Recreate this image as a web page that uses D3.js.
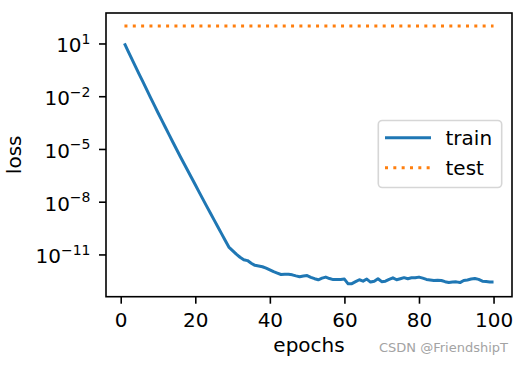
<!DOCTYPE html>
<html>
<head>
<meta charset="utf-8">
<script src="https://cdn.jsdelivr.net/npm/d3@7"></script>
<style>
  html, body { margin: 0; padding: 0; background: #fff; }
  svg { display: block; }
  text { font-family: "DejaVu Sans", sans-serif; fill: #000; }
</style>
</head>
<body>
<svg id="chart" width="523" height="365"></svg>
<script>
// ---- data ----
const epochs = d3.range(1, 101);
// log10 of the training loss, epochs 1..100
const trainLog10 = [
  1.00, 0.55, 0.11, -0.33, -0.77, -1.20, -1.64, -2.08, -2.51, -2.94,
  -3.36, -3.78, -4.20, -4.62, -5.03, -5.44, -5.84, -6.24, -6.64, -7.04,
  -7.44, -7.84, -8.24, -8.63, -9.02, -9.41, -9.80, -10.19, -10.58, -10.78,
  -10.98, -11.16, -11.30, -11.35, -11.50, -11.62, -11.66, -11.70, -11.78, -11.88,
  -11.98, -12.06, -12.14, -12.12, -12.13, -12.16, -12.22, -12.27, -12.23, -12.20,
  -12.30, -12.38, -12.44, -12.35, -12.29, -12.37, -12.43, -12.42, -12.43, -12.40,
  -12.67, -12.66, -12.55, -12.44, -12.52, -12.40, -12.57, -12.52, -12.38, -12.55,
  -12.52, -12.42, -12.33, -12.44, -12.38, -12.32, -12.38, -12.33, -12.33, -12.29,
  -12.35, -12.42, -12.45, -12.48, -12.47, -12.48, -12.55, -12.60, -12.57, -12.56,
  -12.60, -12.48, -12.45, -12.40, -12.37, -12.42, -12.52, -12.54, -12.57, -12.57
];
const trainLoss = trainLog10.map(e => Math.pow(10, e));
// test loss stays flat at about 1e2
const testLoss = [
  100,100,100,100,100,100,100,100,100,100,
  100,100,100,100,100,100,100,100,100,100,
  100,100,100,100,100,100,100,100,100,100,
  100,100,100,100,100,100,100,100,100,100,
  100,100,100,100,100,100,100,100,100,100,
  100,100,100,100,100,100,100,100,100,100,
  100,100,100,100,100,100,100,100,100,100,
  100,100,100,100,100,100,100,100,100,100,
  100,100,100,100,100,100,100,100,100,100,
  100,100,100,100,100,100,100,100,100,100
];
const xTicks = [0, 20, 40, 60, 80, 100];
const yTickExponents = [1, -2, -5, -8, -11];
const seriesNames = ["train", "test"];
const seriesColors = ["#1f77b4", "#ff7f0e"];

// ---- layout ----
const svg = d3.select("#chart");
const L = 106, R = 512, T = 13, B = 296.7;

// x domain with matplotlib-like 5% margins
const xmin = d3.min(epochs), xmax = d3.max(epochs);
const xm = (xmax - xmin) * 0.05;
const x = d3.scaleLinear().domain([xmin - xm, xmax + xm]).range([L, R]);

// y log domain with 5% margins in log space
const allLog = trainLoss.concat(testLoss).map(v => Math.log10(v));
const lo = d3.min(allLog), hi = d3.max(allLog);
const ym = (hi - lo) * 0.05;
const y = d3.scaleLog().domain([Math.pow(10, lo - ym), Math.pow(10, hi + ym)]).range([B, T]);

// ---- lines ----
const line = d3.line().x((d, i) => x(epochs[i])).y(d => y(d));

svg.append("path")
  .datum(trainLoss)
  .attr("d", line)
  .attr("fill", "none")
  .attr("stroke", seriesColors[0])
  .attr("stroke-width", 3)
  .attr("stroke-linejoin", "round")
  .attr("stroke-linecap", "butt");

svg.append("path")
  .datum(testLoss)
  .attr("d", line)
  .attr("fill", "none")
  .attr("stroke", seriesColors[1])
  .attr("stroke-width", 3)
  .attr("stroke-dasharray", "3,5.33");

// ---- axes ----
const xAxis = d3.axisBottom(x).tickValues(xTicks).tickSize(7).tickPadding(7).tickFormat(d3.format("d"));
const gx = svg.append("g").attr("transform", `translate(0,${B})`).call(xAxis);
gx.select(".domain").remove();
gx.selectAll(".tick line").attr("stroke", "#000").attr("stroke-width", 1.6);
gx.selectAll(".tick text")
  .attr("font-size", 20)
  .attr("font-family", "DejaVu Sans")
  .attr("fill", "#000")
  .attr("dy", null)
  .attr("y", 30);

const yAxis = d3.axisLeft(y).tickValues(yTickExponents.map(e => Math.pow(10, e))).tickSize(7).tickFormat("");
const gy = svg.append("g").attr("transform", `translate(${L},0)`).call(yAxis);
gy.select(".domain").remove();
gy.selectAll(".tick line").attr("stroke", "#000").attr("stroke-width", 1.6);
gy.selectAll(".tick text").remove();
gy.selectAll(".tick").each(function(d) {
  const e = Math.round(Math.log10(d));
  const t = d3.select(this).append("text")
    .attr("x", -15.5)
    .attr("y", 8.5)
    .attr("text-anchor", "end")
    .attr("font-size", 20)
    .attr("font-family", "DejaVu Sans")
    .attr("fill", "#000");
  t.append("tspan").text("10");
  t.append("tspan")
    .attr("font-size", 14)
    .attr("dy", -8.5)
    .text(String(e).replace("-", "\u2212"));
});

// spines
svg.append("rect")
  .attr("x", L).attr("y", T)
  .attr("width", R - L).attr("height", B - T)
  .attr("fill", "none")
  .attr("stroke", "#000")
  .attr("stroke-width", 1.6);

// axis labels
svg.append("text")
  .attr("x", (L + R) / 2).attr("y", 352)
  .attr("text-anchor", "middle")
  .attr("font-size", 20)
  .text("epochs");

svg.append("text")
  .attr("transform", `translate(20.5,${(T + B) / 2}) rotate(-90)`)
  .attr("text-anchor", "middle")
  .attr("font-size", 20)
  .text("loss");

// ---- legend ----
const lg = svg.append("g");
lg.append("rect")
  .attr("x", 378.3).attr("y", 120.5)
  .attr("width", 123.4).attr("height", 67)
  .attr("rx", 4).attr("ry", 4)
  .attr("fill", "#fff").attr("fill-opacity", 0.8)
  .attr("stroke", "#d6d6d6").attr("stroke-width", 1.6);
seriesNames.forEach((name, i) => {
  const yy = 137.7 + i * 30;
  lg.append("line")
    .attr("x1", 385).attr("x2", 431)
    .attr("y1", yy).attr("y2", yy)
    .attr("stroke", seriesColors[i])
    .attr("stroke-width", 3)
    .attr("stroke-dasharray", i === 1 ? "3,5.33" : null);
  lg.append("text")
    .attr("x", 445.5).attr("y", yy + 7)
    .attr("font-size", 20)
    .text(name);
});

// watermark
svg.append("text")
  .attr("x", 508).attr("y", 352)
  .attr("text-anchor", "end")
  .attr("font-size", 13)
  .attr("font-family", "Liberation Sans, Arial, sans-serif")
  .style("fill", "#a3a3a3")
  .text("CSDN @FriendshipT");
</script>
</body>
</html>
